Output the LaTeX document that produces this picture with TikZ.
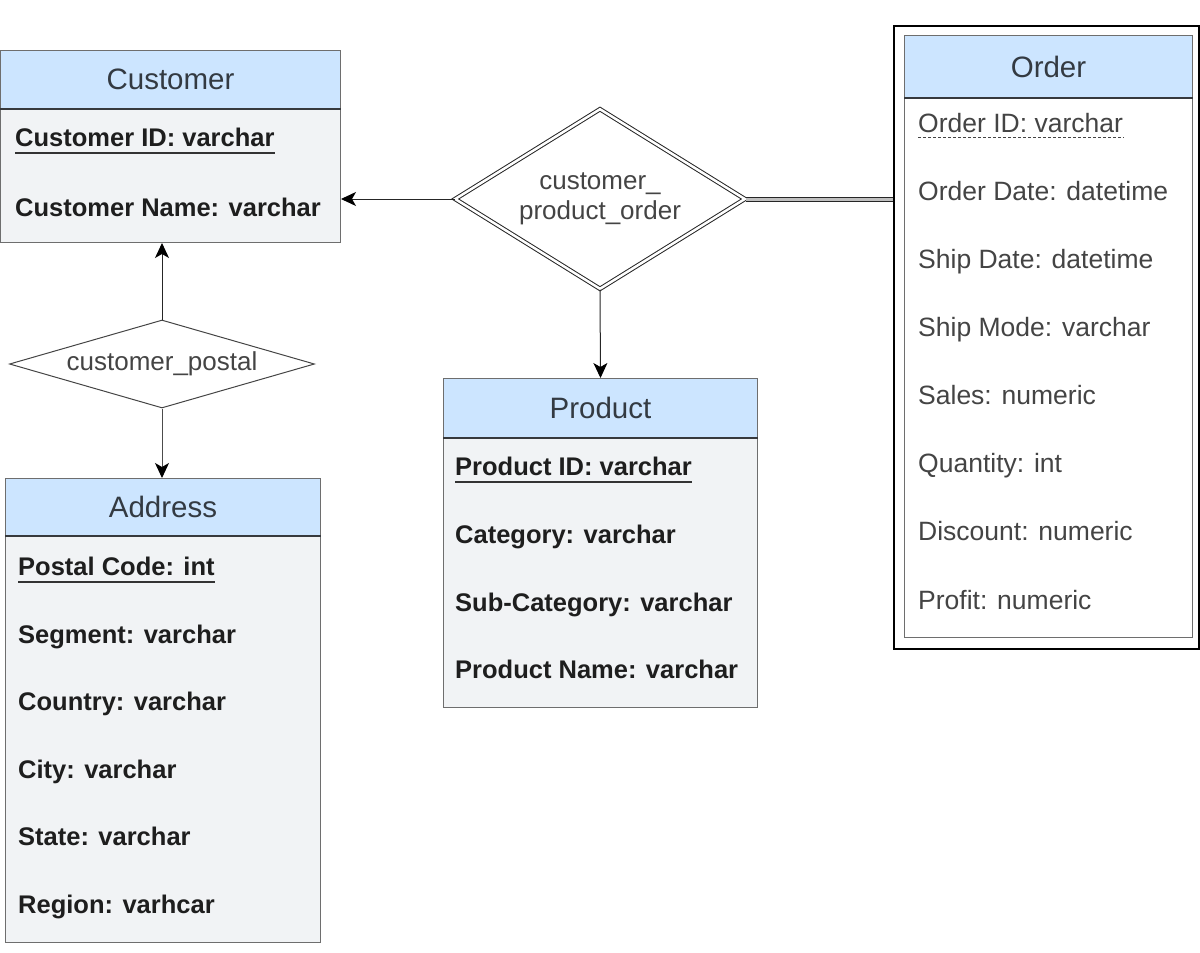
\documentclass[tikz,border=0pt]{standalone}
\usepackage{fontspec}
\setmainfont{Liberation Sans}
\usetikzlibrary{shapes.geometric,arrows.meta,calc}
\definecolor{hdrc}{HTML}{CCE5FF}
\definecolor{bodyc}{HTML}{F1F3F5}
\definecolor{bordc}{HTML}{6E6E6E}
\definecolor{divc}{HTML}{36393D}
\definecolor{titlec}{HTML}{333A42}
\definecolor{attrc}{HTML}{1E1E1E}
\definecolor{ordc}{HTML}{444444}
\definecolor{relc}{HTML}{444444}
\newcommand\ttlfont{\fontsize{29.5}{35}\selectfont}
\newcommand\atbfont{\fontsize{25.5}{30}\selectfont\bfseries}
\newcommand\atrfont{\fontsize{26.5}{30}\selectfont}
\newcommand\relfont{\fontsize{26}{30}\selectfont}
\begin{document}
\begin{tikzpicture}[x=1pt,y=-1pt,
  hdr/.style={draw=bordc, fill=hdrc, line width=1pt, anchor=north west, inner sep=0pt, font=\ttlfont, text=titlec},
  tbody/.style={draw=bordc, fill=bodyc, line width=1pt, anchor=north west, inner sep=0pt},
  attrb/.style={anchor=base west, inner sep=0pt, font=\atbfont, text=attrc},
  attrr/.style={anchor=base west, inner sep=0pt, font=\atrfont, text=ordc},
  rel/.style={diamond, draw=relc, line width=1pt, inner sep=0pt, font=\relfont, text=relc, align=center},
  arr/.style={-{Stealth[length=15pt,width=14pt,inset=4pt,fill=black,color=black]}, line width=1pt, draw=black!85},
  uline/.style={line width=2pt, draw=black!80},
  divline/.style={line width=1.5pt, draw=divc}
]
\useasboundingbox (0,0) rectangle (1200,953);

% Customer
\node[tbody, minimum width=340pt, minimum height=134pt] (custB) at (0,108) {};
\node[hdr, minimum width=340pt, minimum height=58pt] (custH) at (0,50) {Customer};
\draw[divline] (custH.south west) -- (custH.south east);
\node[attrb] (cid) at (15,146) {Customer ID: varchar};
\draw[uline] ($(cid.base west)+(0,6.5)$) -- ($(cid.base east)+(0,6.5)$);
\node[attrb] (cname) at (15,216) {Customer Name: varchar};

% Address
\node[tbody, minimum width=315pt, minimum height=407pt] (addrB) at (5,535) {};
\node[hdr, minimum width=315pt, minimum height=57pt] (addrH) at (5,478) {Address};
\draw[divline] (addrH.south west) -- (addrH.south east);
\node[attrb] (apc) at (18,575) {Postal Code: int};
\draw[uline] ($(apc.base west)+(0,6.5)$) -- ($(apc.base east)+(0,6.5)$);
\node[attrb] (aseg) at (18,643) {Segment: varchar};
\node[attrb] (acty) at (18,710) {Country: varchar};
\node[attrb] (acit) at (18,778) {City: varchar};
\node[attrb] (asta) at (18,845) {State: varchar};
\node[attrb] (areg) at (18,913) {Region: varhcar};

% Product
\node[tbody, minimum width=314pt, minimum height=270pt] (prodB) at (443,437) {};
\node[hdr, minimum width=314pt, minimum height=59pt] (prodH) at (443,378) {Product};
\draw[divline] (prodH.south west) -- (prodH.south east);
\node[attrb] (pid) at (455,475) {Product ID: varchar};
\draw[uline] ($(pid.base west)+(0,6.5)$) -- ($(pid.base east)+(0,6.5)$);
\node[attrb] (pcat) at (455,543) {Category: varchar};
\node[attrb] (psub) at (455,611) {Sub-Category: varchar};
\node[attrb] (pnam) at (455,678) {Product Name: varchar};

% Order (weak entity)
\node[draw=black, line width=1.6pt, fill=white, anchor=north west, inner sep=0pt, minimum width=305pt, minimum height=623pt] (ordO) at (893,25) {};
\node[tbody, fill=white, minimum width=288pt, minimum height=540pt] (ordB) at (904,97) {};
\node[hdr, minimum width=288pt, minimum height=62pt] (ordH) at (904,35) {Order};
\draw[divline] (ordH.south west) -- (ordH.south east);
\node[attrr] (oid) at (918,132) {Order ID: varchar};
\draw[dash pattern=on 3pt off 2pt, line width=1pt, draw=ordc] ($(oid.base west)+(0,5)$) -- ($(oid.base east)+(0,5)$);
\node[attrr] (odate) at (918,200) {Order Date: datetime};
\node[attrr] (osdate) at (918,268) {Ship Date: datetime};
\node[attrr] (omode) at (918,336) {Ship Mode: varchar};
\node[attrr] (osal) at (918,404) {Sales: numeric};
\node[attrr] (oqty) at (918,472) {Quantity: int};
\node[attrr] (odis) at (918,540) {Discount: numeric};
\node[attrr] (opro) at (918,609) {Profit: numeric};

% Relationships
\node[rel, draw=black!85, double=white, double distance=2.5pt, aspect=1.61, minimum width=290pt, minimum height=180pt] (cpo) at (600,199) {customer\_\\product\_order};
\node[rel, aspect=3.47, minimum width=305pt, minimum height=88pt] (cp) at (162,364) {customer\_postal};

% Connectors
\draw[arr] (cpo.west) -- (cpo.west -| custB.east);
\draw[arr] (cpo.south) -- (prodH.north);
\draw[line width=1pt, draw=black!85, double=black!25, double distance=3pt] (cpo.east) -- (cpo.east -| ordO.west);
\draw[arr] (cp.north) -- (cp.north |- custB.south);
\draw[arr, draw=black!70] (cp.south) -- (cp.south |- addrH.north);
\end{tikzpicture}
\end{document}
